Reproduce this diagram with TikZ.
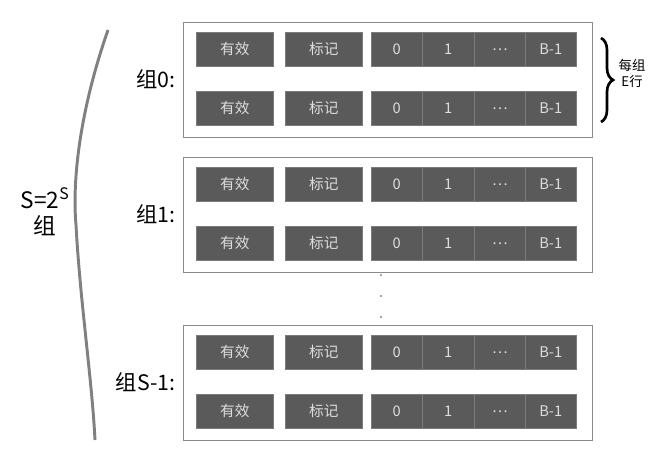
\documentclass[tikz,border=0pt]{standalone}
\usepackage{fontspec}
\setmainfont{Noto Sans CJK SC}
\usetikzlibrary{decorations.pathreplacing}
\definecolor{cellc}{HTML}{5A5A5A}
\definecolor{cellt}{HTML}{DDDDDD}
\definecolor{boxc}{HTML}{8A8A8A}
\tikzset{
  cell/.style={draw=cellc!80!white, fill=cellc, text=cellt, font=\fontsize{11}{12}\selectfont, inner sep=0pt, anchor=north west},
  grp/.style={draw=boxc, line width=1pt, fill=white, inner sep=0pt, anchor=north west},
  glabel/.style={font=\fontsize{16}{18}\selectfont, anchor=east}
}
\begin{document}
\begin{tikzpicture}[x=0.75pt,y=-0.75pt]
\useasboundingbox (0,0) rectangle (663,465);
\fill[white] (0,0) rectangle (663,465);
\foreach \g/\gy/\lab in {0/22/组0:, 1/157/组1:, 2/325/组S-1:}{
  \node[grp, minimum width=409*0.75pt, minimum height=115*0.75pt] (g\g) at (183,\gy) {};
  \node[glabel] (l\g) at (180,\gy+57) {\lab};
  \foreach \r/\ry in {a/10, b/69}{
    \node[cell, minimum width=77*0.75pt, minimum height=34*0.75pt] (v\g\r) at (196,\gy+\ry) {有效};
    \node[cell, minimum width=77*0.75pt, minimum height=34*0.75pt] (t\g\r) at (285,\gy+\ry) {标记};
    \node[cell, minimum width=51*0.75pt, minimum height=34*0.75pt] (c0\g\r) at (371,\gy+\ry) {0};
    \node[cell, minimum width=52*0.75pt, minimum height=34*0.75pt] (c1\g\r) at (422,\gy+\ry) {1};
    \node[cell, minimum width=51*0.75pt, minimum height=34*0.75pt] (c2\g\r) at (474,\gy+\ry) {\ldots};
    \node[cell, minimum width=51*0.75pt, minimum height=34*0.75pt] (c3\g\r) at (525,\gy+\ry) {B-1};
  }
}
\foreach \y [count=\i] in {275,296,317}{\node[circle,fill=black!70,inner sep=0.5pt] (d\i) at (381,\y) {};}
\draw[decorate,decoration={brace,amplitude=9pt},line width=2pt] (601,38) -- (601,122);
\node[font=\fontsize{10}{12}\selectfont, align=center] (e) at (632,73) {每组\\E行};
\draw[gray, line width=2.2pt] (108,30) .. controls (80,110) and (72,180) .. (76,225) .. controls (80,300) and (92,380) .. (95,440);
\node[font=\fontsize{17}{20}\selectfont, align=center] (s) at (45,212) {S=2\textsuperscript{S}\\组};
\end{tikzpicture}
\end{document}
